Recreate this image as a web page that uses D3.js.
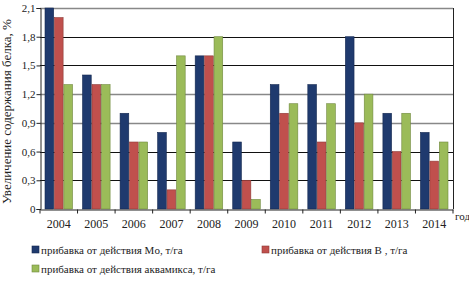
<!DOCTYPE html>
<html>
<head>
<meta charset="utf-8">
<script src="https://cdn.jsdelivr.net/npm/d3@7"></script>
<style>
  body { margin: 0; background: #fff; }
</style>
</head>
<body>
<div id="chart"></div>
<script>
let years = ['2004','2005','2006','2007','2008','2009','2010','2011','2012','2013','2014'];
let moValues = [2.1, 1.4, 1.0, 0.8, 1.6, 0.7, 1.3, 1.3, 1.8, 1.0, 0.8];
let bValues = [2.0, 1.3, 0.7, 0.2, 1.6, 0.3, 1.0, 0.7, 0.9, 0.6, 0.5];
let mixValues = [1.3, 1.3, 0.7, 1.6, 1.8, 0.1, 1.1, 1.1, 1.2, 1.0, 0.7];
let seriesNames = ['прибавка от действия Mo, т/га', 'прибавка от действия B , т/га', 'прибавка от действия  аквамикса, т/га'];
let yTicks = [0, 0.3, 0.6, 0.9, 1.2, 1.5, 1.8, 2.1];

let colors = ['#1f3a6e', '#c0504d', '#9bbb59'];
let strokes = ['#142850', '#8c3a37', '#71893f'];
let serif = 'Liberation Serif';

let width = 469, height = 281;
let plotLeft = 40, plotRight = 453, plotTop = 8, plotBottom = 209;

let svg = d3.select('#chart').append('svg')
    .attr('width', width)
    .attr('height', height);

let xScale = d3.scaleBand().domain(years).range([plotLeft, plotRight]).paddingInner(0).paddingOuter(0);
let inner = d3.scaleBand().domain([0, 1, 2]).range([5, xScale.bandwidth() - 5]).paddingInner(0.08);
let yScale = d3.scaleLinear().domain([0, 2.1]).range([plotBottom, plotTop]);

// gridlines
let gridColor = {0.3: '#111', 0.6: '#111', 0.9: '#888', 1.2: '#888', 1.5: '#111', 1.8: '#111', 2.1: '#888'};
svg.append('g')
    .selectAll('line')
    .data(yTicks.filter(d => d > 0))
    .enter()
    .append('line')
    .attr('x1', plotLeft)
    .attr('x2', plotRight)
    .attr('y1', d => Math.round(yScale(d)) + 0.5)
    .attr('y2', d => Math.round(yScale(d)) + 0.5)
    .attr('stroke', d => gridColor[d])
    .attr('stroke-width', d => gridColor[d] === '#888' ? 1.5 : 1);

// right border
svg.append('line')
    .attr('x1', plotRight + 0.5).attr('x2', plotRight + 0.5)
    .attr('y1', plotTop).attr('y2', plotBottom)
    .attr('stroke', '#222');

// bars
let series = [moValues, bValues, mixValues];
series.forEach(function(vals, i) {
    svg.append('g')
        .selectAll('rect')
        .data(vals)
        .enter()
        .append('rect')
        .attr('x', (d, j) => xScale(years[j]) + inner(i))
        .attr('y', d => yScale(d))
        .attr('width', inner.bandwidth())
        .attr('height', d => plotBottom - yScale(d))
        .attr('fill', colors[i])
        .attr('stroke', strokes[i])
        .attr('stroke-width', 0.6);
});

// y axis
let yAxis = d3.axisLeft(yScale)
    .tickValues(yTicks)
    .tickSize(4)
    .tickFormat(d => d === 0 ? '0' : d3.format('.1f')(d).replace('.', ','));
let yg = svg.append('g')
    .attr('transform', 'translate(' + (plotLeft + 0.5) + ',0)')
    .call(yAxis);
yg.select('.domain').attr('stroke', '#222');
yg.selectAll('.tick line').attr('stroke', '#222');
yg.selectAll('text')
    .attr('font-family', serif)
    .attr('font-size', 11)
    .attr('fill', '#222')
    .attr('x', -5);

// x axis
let xAxis = d3.axisBottom(xScale).tickSize(0);
let xg = svg.append('g')
    .attr('transform', 'translate(0,' + (plotBottom + 0.5) + ')')
    .call(xAxis);
xg.select('.domain').attr('stroke', '#222');
xg.selectAll('text')
    .attr('font-family', serif)
    .attr('font-size', 12)
    .attr('fill', '#222')
    .attr('dy', '1.25em');
xg.selectAll('.sep')
    .data(years.concat(['end']))
    .enter()
    .append('line')
    .attr('x1', (d, i) => plotLeft + i * xScale.bandwidth())
    .attr('x2', (d, i) => plotLeft + i * xScale.bandwidth())
    .attr('y1', 0)
    .attr('y2', 4)
    .attr('stroke', '#222');

svg.append('text')
    .text('год')
    .attr('x', 455)
    .attr('y', 220)
    .attr('font-family', serif)
    .attr('font-size', 11)
    .attr('fill', '#222');

// y title
svg.append('text')
    .text('Увеличение содержания белка, %')
    .attr('transform', 'translate(11,' + ((plotTop + plotBottom) / 2 + 3) + ') rotate(-90)')
    .attr('text-anchor', 'middle')
    .attr('font-family', serif)
    .attr('font-size', 13)
    .attr('fill', '#222');

// legend
let legendPos = [[32, 254], [262, 254], [32, 273]];
let legend = svg.append('g')
    .selectAll('g')
    .data(seriesNames)
    .enter()
    .append('g')
    .attr('transform', (d, i) => 'translate(' + legendPos[i][0] + ',' + legendPos[i][1] + ')');
legend.append('rect')
    .attr('x', 0)
    .attr('y', -8)
    .attr('width', 7)
    .attr('height', 7)
    .attr('fill', (d, i) => colors[i])
    .attr('stroke', (d, i) => strokes[i])
    .attr('stroke-width', 0.6);
legend.append('text')
    .text(d => d)
    .attr('x', 9)
    .attr('y', 0)
    .attr('font-family', serif)
    .attr('font-size', 11)
    .attr('fill', '#222');
</script>
</body>
</html>
